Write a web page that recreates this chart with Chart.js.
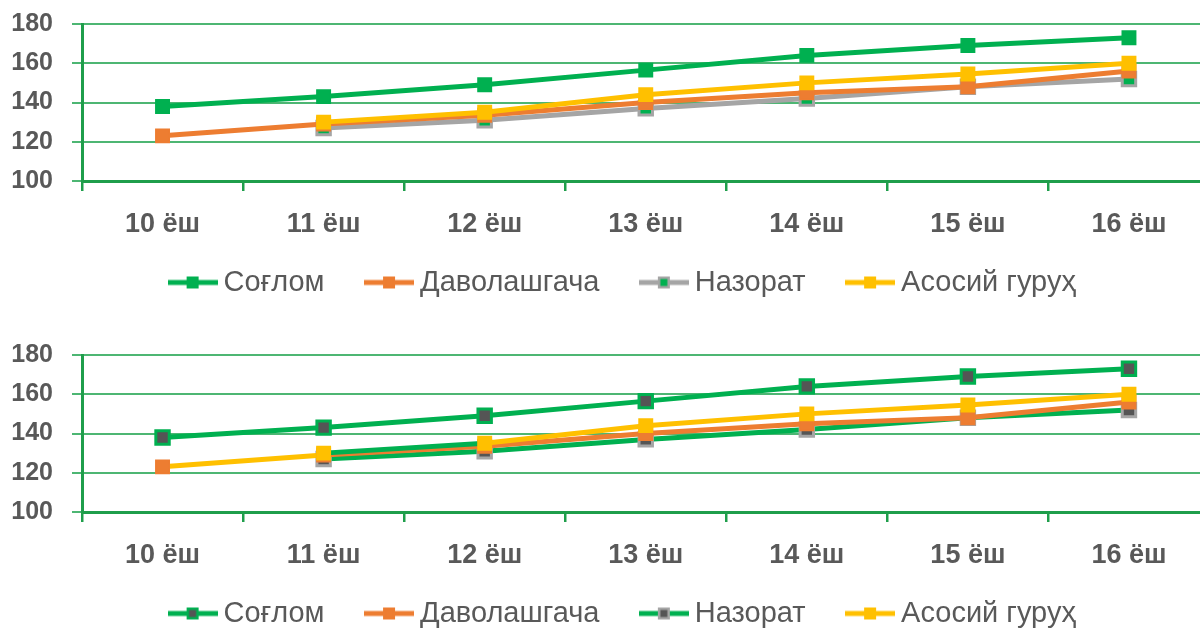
<!DOCTYPE html>
<html>
<head>
<meta charset="utf-8">
<script src="https://cdn.jsdelivr.net/npm/chart.js@4.4.1/dist/chart.umd.min.js"></script>
<style>
  html, body { margin: 0; padding: 0; background: #fff; overflow: hidden; width: 1200px; height: 629px; }
  .box { position: absolute; left: 0; width: 1222px; height: 331px; }
  #topBox { top: 0; }
  #bottomBox { top: 331px; }
</style>
</head>
<body>
<div class="box" id="topBox"><canvas id="chartTop" width="1222" height="331"></canvas></div>
<div class="box" id="bottomBox"><canvas id="chartBottom" width="1222" height="331"></canvas></div>
<script>
// Age groups on the x axis
const ageLabels = ['10 ёш', '11 ёш', '12 ёш', '13 ёш', '14 ёш', '15 ёш', '16 ёш'];

// Series names
const seriesNames = ['Соғлом', 'Даволашгача', 'Назорат', 'Асосий гуруҳ'];

// Height values (cm) per age group
const healthy      = [138, 143, 149, 156.5, 164, 169, 173];
const preTreatment = [123, 129, 133.5, 140, 145, 148, 156];
const control      = [null, 127, 131, 137, 142, 148, 152];
const mainGroup    = [null, 130, 135, 144, 150, 154.5, 160];

// Value axis range
const yMin = 100, yMax = 180, yStep = 20;

const GREEN = '#00b050';
const ORANGE = '#ed7d31';
const GREY = '#a5a5a5';
const YELLOW = '#ffc000';
const DARK = '#555555';
const AXIS = '#1f9e4b';
const GRID = '#4db673';
const TEXT = '#595959';
const FONT = "'Liberation Sans', Arial, sans-serif";

// Legend symbol: short line with a square marker in the middle
function legendIcon(line, fill, border) {
  const c = document.createElement('canvas');
  c.width = 50; c.height = 16;
  const g = c.getContext('2d');
  g.strokeStyle = line; g.lineWidth = 5;
  g.beginPath(); g.moveTo(0, 8); g.lineTo(50, 8); g.stroke();
  g.fillStyle = border; g.fillRect(19, 2, 12, 12);
  g.fillStyle = fill; g.fillRect(21.5, 4.5, 7, 7);
  return c;
}

// Moves the legend row to sit centred under the plot, just below the age labels
const legendPlacement = {
  id: 'legendPlacement',
  afterLayout(chart) {
    const lg = chart.legend;
    const dx = 15, dy = -15;
    lg.left += dx; lg.right += dx;
    lg.top += dy; lg.bottom += dy;
  }
};

function series(label, data, line, fill, border, borderW, order, icon, segColor) {
  const ds = {
    label, data, order,
    borderColor: line, borderWidth: 5,
    pointStyle: 'rect', pointRadius: 9.5, pointHoverRadius: 9.5,
    pointBackgroundColor: fill, pointBorderColor: border, pointBorderWidth: borderW,
    tension: 0, fill: false,
    legendIcon: icon
  };
  if (segColor) ds.segment = { borderColor: segColor };
  return ds;
}

function makeChart(id, datasets) {
  return new Chart(document.getElementById(id), {
    type: 'line',
    data: { labels: ageLabels, datasets },
    plugins: [legendPlacement],
    options: {
      responsive: false,
      animation: false,
      events: [],
      layout: { padding: { top: 24, left: 0, right: 0, bottom: 9 } },
      scales: {
        x: {
          offset: true,
          grid: { offset: true, drawOnChartArea: false, tickLength: 10, color: AXIS, lineWidth: 2.5 },
          border: { color: AXIS, width: 3 },
          ticks: { padding: 17, autoSkip: false, maxRotation: 0, color: TEXT, font: { family: FONT, size: 27, weight: 'bold' } },
          afterFit(s) { s.height = 54; }
        },
        y: {
          min: yMin, max: yMax,
          ticks: { stepSize: yStep, padding: 19, color: TEXT, font: { family: FONT, size: 25, weight: 'bold' } },
          grid: { color: GRID, lineWidth: 2, tickLength: 10 },
          border: { color: AXIS, width: 3 },
          afterFit(s) { s.width = 82; s.paddingTop = 0; s.paddingBottom = 0; }
        }
      },
      plugins: {
        tooltip: { enabled: false },
        legend: {
          position: 'bottom',
          labels: {
            usePointStyle: true,
            pointStyleWidth: 33,
            padding: 48,
            color: TEXT,
            font: { family: FONT, size: 29 },
            sort: (a, b) => a.datasetIndex - b.datasetIndex,
            generateLabels(chart) {
              const items = Chart.defaults.plugins.legend.labels.generateLabels(chart);
              items.forEach(it => { it.pointStyle = chart.data.datasets[it.datasetIndex].legendIcon; });
              return items;
            }
          }
        }
      }
    }
  });
}

// Upper chart
makeChart('chartTop', [
  series(seriesNames[0], healthy, GREEN, GREEN, GREEN, 1.5, 3, legendIcon(GREEN, GREEN, GREEN)),
  series(seriesNames[1], preTreatment, ORANGE, ORANGE, ORANGE, 1.5, 1, legendIcon(ORANGE, ORANGE, ORANGE)),
  series(seriesNames[2], control, GREY, GREEN, GREY, 3, 2, legendIcon(GREY, GREEN, GREY)),
  series(seriesNames[3], mainGroup, YELLOW, YELLOW, YELLOW, 1.5, 0, legendIcon(YELLOW, YELLOW, YELLOW))
]);

// Lower chart: dark markers, green control line
makeChart('chartBottom', [
  series(seriesNames[0], healthy, GREEN, DARK, GREEN, 3, 3, legendIcon(GREEN, DARK, GREEN)),
  series(seriesNames[1], preTreatment, ORANGE, ORANGE, ORANGE, 1.5, 1, legendIcon(ORANGE, ORANGE, ORANGE),
    ctx => ctx.p0DataIndex === 0 ? YELLOW : undefined),
  series(seriesNames[2], control, GREEN, DARK, GREY, 3, 2, legendIcon(GREEN, DARK, GREY)),
  series(seriesNames[3], mainGroup, YELLOW, YELLOW, YELLOW, 1.5, 0, legendIcon(YELLOW, YELLOW, YELLOW),
    ctx => ctx.p0DataIndex === 1 ? GREEN : undefined)
]);
</script>
</body>
</html>
